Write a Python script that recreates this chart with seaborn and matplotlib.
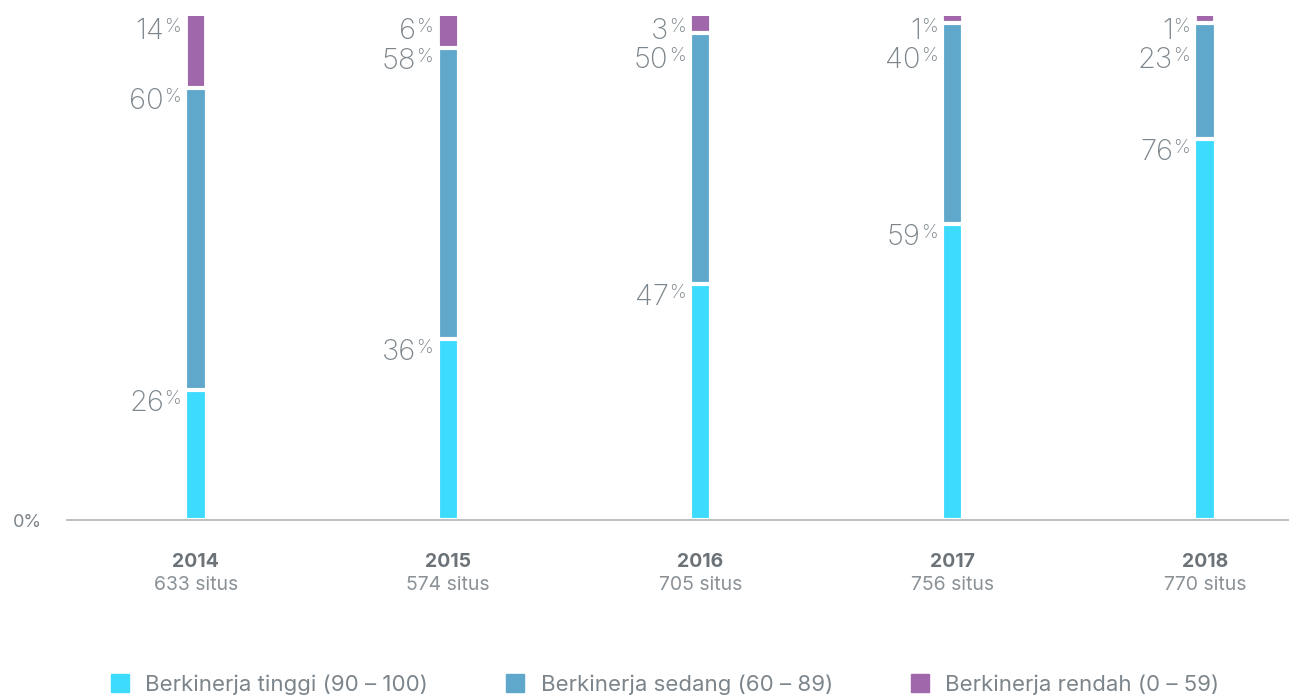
import matplotlib
matplotlib.use("Agg")
import matplotlib.pyplot as plt
import seaborn as sns
import pandas as pd
from matplotlib.lines import Line2D

# === DATA ===
years = ["2014", "2015", "2016", "2017", "2018"]
situs = ["633 situs", "574 situs", "705 situs", "756 situs", "770 situs"]
tinggi = [26, 36, 47, 59, 76]
sedang = [60, 58, 50, 40, 23]
rendah = [14, 6, 3, 1, 1]
labels = ["Berkinerja tinggi (90 – 100)", "Berkinerja sedang (60 – 89)", "Berkinerja rendah (0 – 59)"]
colors = ["#3ddcff", "#60a8cb", "#a067ab"]

GRAY = "#7c858b"

df = pd.DataFrame({"tahun": years, "tinggi": tinggi, "sedang": sedang, "rendah": rendah})
df["top_tinggi"] = df["tinggi"]
df["top_sedang"] = df["tinggi"] + df["sedang"]
df["top_rendah"] = df["top_sedang"] + df["rendah"]

sns.set_theme(style="white")
plt.rcParams["font.family"] = ["Inter", "DejaVu Sans"]

fig = plt.figure(figsize=(12.89, 6.98), dpi=100)
ax = fig.add_axes([0.052, 0.255, 0.948, 0.722])

# stacked bars: cumulative totals drawn from the top layer down.
# top layer gets an edge in its own colour so thin (1%) pieces stay visible,
# lower layers get white edges which make the gaps between segments.
sns.barplot(data=df, x="tahun", y="top_rendah", color=colors[2], saturation=1,
            width=0.051, edgecolor=colors[2], linewidth=3,
            errorbar=None, ax=ax)
for col, color in [("top_sedang", colors[1]), ("top_tinggi", colors[0])]:
    sns.barplot(data=df, x="tahun", y=col, color=color, saturation=1,
                width=0.084, edgecolor="white", linewidth=3,
                errorbar=None, ax=ax)

# value labels, pushed down when they would collide with the label above
for i in range(len(years)):
    prev_y = None
    for segtop, val in [(df["top_rendah"][i], rendah[i]),
                        (df["top_sedang"][i], sedang[i]),
                        (df["top_tinggi"][i], tinggi[i])]:
        y = segtop if prev_y is None else min(segtop, prev_y - 5.8)
        prev_y = y
        ax.annotate(f"{val}", xy=(i, y), xytext=(-32, 0), textcoords="offset pixels",
                    ha="right", va="top", fontsize=21, color=GRAY, fontweight="light")
        ax.annotate("%", xy=(i, y), xytext=(-15, 0), textcoords="offset pixels",
                    ha="right", va="top", fontsize=13.5, color=GRAY, fontweight="light")

# x labels: year + number of sites
for i, s in enumerate(situs):
    ax.annotate(s, xy=(i, 0), xycoords=("data", "axes fraction"), xytext=(0, -65),
                textcoords="offset pixels", ha="center", va="center",
                fontsize=14, color="#8a9298")

ax.set_xlim(-0.511, 4.333)
ax.set_ylim(0, 100.4)
ax.set_xlabel("")
ax.set_ylabel("")
ax.set_yticks([0])
ax.set_yticklabels(["0%"], fontsize=13, color=GRAY)
ax.set_xticks(range(len(years)))
ax.set_xticklabels(years, fontsize=14, fontweight="bold", color="#6b7379")
ax.tick_params(axis="y", length=0, pad=18)
ax.tick_params(axis="x", length=0, pad=24)
sns.despine(ax=ax, left=True)
ax.spines["bottom"].set_color("#b0b5b9")
ax.spines["bottom"].set_linewidth(1.2)
ax.grid(False)

handles = [Line2D([], [], marker="s", linestyle="", markersize=12.5, color=c) for c in colors]
fig.legend(handles, labels, loc="center", bbox_to_anchor=(0.516, 0.019), ncol=3,
           frameon=False, fontsize=16, handlelength=0.8, handletextpad=0.75,
           columnspacing=3.5, labelcolor=GRAY)

fig.savefig("out.png", dpi=100)
